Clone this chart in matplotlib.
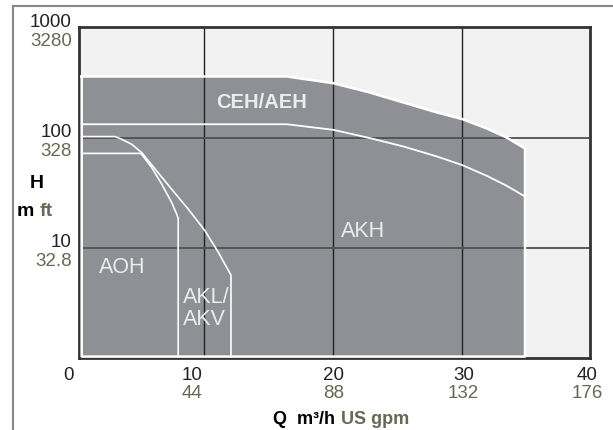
import matplotlib.pyplot as plt
from matplotlib.lines import Line2D
from matplotlib.transforms import offset_copy

plt.rcParams['font.family'] = ['Liberation Sans Narrow', 'DejaVu Sans Condensed',
                               'Liberation Sans', 'DejaVu Sans']

# Operating range envelope (Q in m3/h, H in m)
env_q = [0.5, 16.39, 20.0, 22.84, 25.43, 28.02, 30.0, 31.89, 33.44, 34.86, 34.86, 0.5, 0.5]
env_h = [358, 358, 311, 256, 208, 169, 147, 121, 100, 79.6, 1.03, 1.03, 358]

# AKH upper limit
akh_q = [0.5, 16.39, 20.0, 22.84, 25.43, 28.02, 30.0, 31.89, 33.44, 34.86]
akh_h = [132, 132, 117.5, 98.8, 83, 67.4, 56.2, 45, 36.5, 29.2]

# AKL/AKV limit
akl_q = [0.5, 3.08, 3.47, 4.37, 5.15, 6.18, 7.47, 8.76, 10.05, 11.09, 12.07, 12.07]
akl_h = [102, 102, 98, 87, 73, 52, 34, 22.4, 14.3, 9.1, 5.65, 1.03]

# AOH limit
aoh_q = [0.5, 5.09, 5.92, 6.70, 7.47, 7.86, 7.98, 7.98]
aoh_h = [71.8, 71.8, 53.6, 37.8, 25.8, 20.2, 18.5, 1.03]

x_ticks = [0, 10, 20, 30, 40]
x_gpm = ['', '44', '88', '132', '176']
x_shift = [-7, -12, 0, 1, -4]
y_ticks = [10, 100, 1000]
y_main = ['10', '100', '1000']
y_ft = ['32.8', '328', '3280']

dark = '#8e9095'
light = '#f2f2f2'
olive = '#636a55'
label_col = '#ececec'

fig = plt.figure(figsize=(6.13, 4.31), dpi=100)
ax = fig.add_axes([0.12887, 0.16705, 0.83361, 0.76729])
ax.set_facecolor(light)
ax.set_yscale('log')
ax.set_xlim(0.29, 39.9)
ax.set_ylim(1, 1000)

ax.fill(env_q, env_h, color=dark, lw=0, zorder=1)
for v in [10, 20, 30]:
    ax.axvline(v, color='#222222', lw=1.0, zorder=2)
for h in [10, 100]:
    ax.axhline(h, color='#505050', lw=1.3, zorder=2)
ax.plot(env_q, env_h, color='white', lw=1.8, zorder=3)
ax.plot(akh_q, akh_h, color='white', lw=1.3, zorder=3)
ax.plot(akl_q, akl_h, color='white', lw=1.2, zorder=3)
ax.plot(aoh_q, aoh_h, color='white', lw=1.2, zorder=3)

ax.text(14.43, 211, 'CEH/AEH', color=label_col, fontsize=14.5, fontweight='bold',
        ha='center', va='center', zorder=4)
ax.text(22.33, 14.2, 'AKH', color=label_col, fontsize=15.5, ha='center', va='center', zorder=4)
ax.text(3.66, 6.78, 'AOH', color=label_col, fontsize=15.5, ha='center', va='center', zorder=4)
ax.text(8.35, 2.88, 'AKL/\nAKV', color=label_col, fontsize=15.5, ha='left', va='center',
        linespacing=1.1, zorder=4)

for s in ax.spines.values():
    s.set_color('#333333')
    s.set_linewidth(2)
ax.set_xticks([])
ax.set_yticks([])
ax.minorticks_off()

ytr = ax.get_yaxis_transform()
for v, a, b in zip(y_ticks, y_main, y_ft):
    ax.text(0, v, a, transform=offset_copy(ytr, fig=fig, x=-7, y=6, units='dots'),
            ha='right', va='center', fontsize=13.5, color='#222222')
    ax.text(0, v, b, transform=offset_copy(ytr, fig=fig, x=-7, y=-13, units='dots'),
            ha='right', va='center', fontsize=13.5, color=olive)

xtr = ax.get_xaxis_transform()
for v, b, dx in zip(x_ticks, x_gpm, x_shift):
    ax.text(v, 0, str(v), transform=offset_copy(xtr, fig=fig, x=dx, y=-16, units='dots'),
            ha='center', va='center', fontsize=13.5, color='#222222')
    ax.text(v, 0, b, transform=offset_copy(xtr, fig=fig, x=dx, y=-34, units='dots'),
            ha='center', va='center', fontsize=13.5, color=olive)

W, H = 613, 431
fig.text(37 / W, 1 - 183 / H, 'H', fontsize=14, fontweight='bold', ha='center', va='center')
fig.text(34 / W, 1 - 211 / H, 'm', fontsize=14, fontweight='bold', ha='right', va='center')
fig.text(40 / W, 1 - 211 / H, 'ft', fontsize=14, fontweight='bold', color=olive,
         ha='left', va='center')
fig.text(335 / W, 1 - 420 / H, 'Q  m³/h', fontsize=13, fontweight='bold', ha='right', va='center')
fig.text(341 / W, 1 - 420 / H, 'US gpm', fontsize=13, fontweight='bold', color=olive,
         ha='left', va='center')

# outer frame (top and left only)
fig.add_artist(Line2D([12.5 / W, 1], [1 - 6.5 / H, 1 - 6.5 / H], color='#888888', lw=1.5))
fig.add_artist(Line2D([12.5 / W, 12.5 / W], [0, 1 - 6.5 / H], color='#888888', lw=1.5))

fig.savefig('out.png', dpi=100)
